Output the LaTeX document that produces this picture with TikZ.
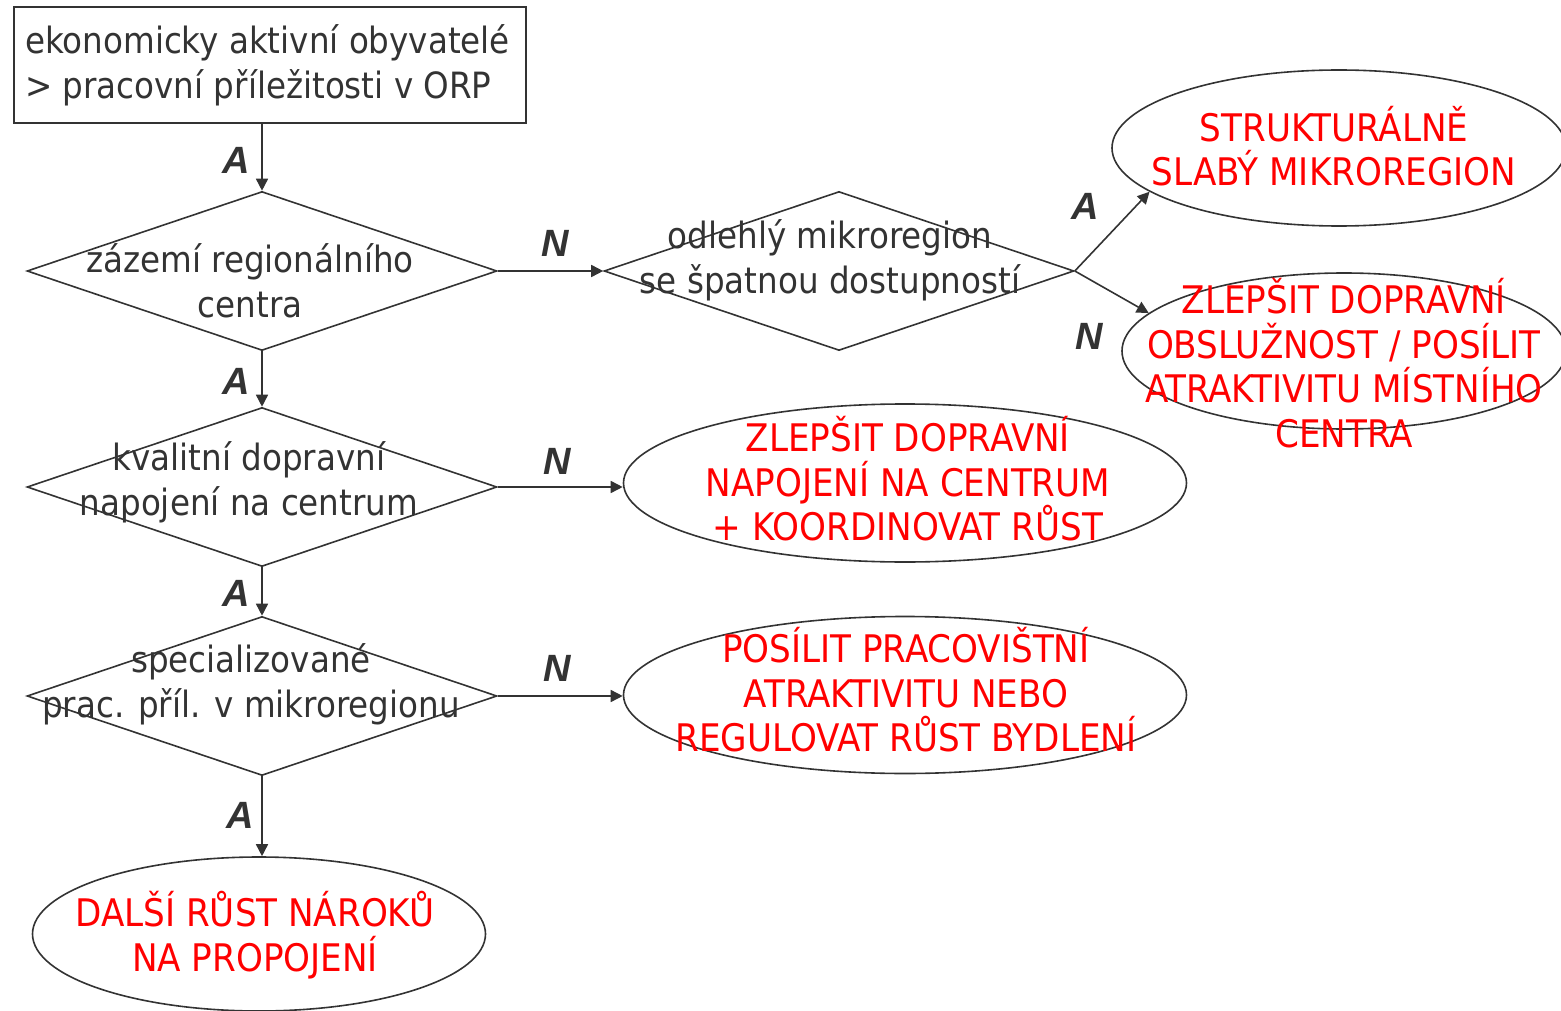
\documentclass[tikz,border=0pt]{standalone}
\usepackage{fontspec}
\setmainfont{DejaVu Sans Condensed}
\newfontfamily\labfont{Liberation Sans}
\usetikzlibrary{shapes.geometric,arrows.meta}
\definecolor{ink}{HTML}{333333}
\definecolor{redt}{HTML}{FF0000}
\tikzset{
  conn/.style={draw=ink, line width=1.6pt, -{Triangle[length=12pt,width=12pt]}},
  dia/.style={draw=ink, line width=1.6pt, shape=diamond, inner sep=0pt, minimum width=470pt, minimum height=159pt},
  ell/.style={draw=ink, line width=1.6pt, shape=ellipse, inner sep=0pt},
  btxt/.style={text=ink, align=center, inner sep=0pt, font=\fontsize{36.2}{45}\selectfont},
  rtxt/.style={text=redt, align=center, inner sep=0pt, font=\fontsize{38}{44.5}\selectfont},
  lab/.style={text=ink, inner sep=0pt, font=\labfont\bfseries\itshape\fontsize{38}{40}\selectfont},
}
\begin{document}
\begin{tikzpicture}[x=1pt,y=-1pt]
\useasboundingbox (0,0) rectangle (1561,1011);
% start box
\node[draw=ink, line width=1.6pt, minimum width=512pt, minimum height=116pt, inner sep=0pt] (box) at (270,65) {};
\node[btxt, align=left, anchor=west] (boxt) at (25,65) {ekonomicky aktivní obyvatelé\\> pracovní příležitosti v ORP};
% diamonds
\node[dia] (d1) at (262,271) {};
\node[dia] (d2) at (839,271) {};
\node[dia] (d3) at (262,487) {};
\node[dia] (d4) at (262,696) {};
\node[btxt] (d1t) at (250,281) {zázemí regionálního\\centra};
\node[btxt] (d2t) at (830,260) {odlehlý mikroregion\\se špatnou dostupností};
\node[btxt] (d3t) at (249,482) {kvalitní dopravní\\napojení na centrum};
\node[btxt] (d4t) at (251,684) {specializované\\prac. příl. v mikroregionu};
% ellipses
\node[ell, minimum width=454pt, minimum height=156pt] (e1) at (1339,148) {};
\node[ell, minimum width=444pt, minimum height=156pt] (e2) at (1344,351) {};
\node[ell, minimum width=563pt, minimum height=158pt] (e3) at (905,483) {};
\node[ell, minimum width=563pt, minimum height=157pt] (e4) at (905,695) {};
\node[ell, minimum width=453pt, minimum height=154pt] (e5) at (259,934) {};
\node[rtxt] (e1t) at (1334,146) {STRUKTURÁLNĚ\\SLABÝ MIKROREGION};
\node[rtxt] (e2t) at (1344,363) {ZLEPŠIT DOPRAVNÍ\\OBSLUŽNOST / POSÍLIT\\ATRAKTIVITU MÍSTNÍHO\\CENTRA};
\node[rtxt] (e3t) at (908,479) {ZLEPŠIT DOPRAVNÍ\\NAPOJENÍ NA CENTRUM\\+ KOORDINOVAT RŮST};
\node[rtxt] (e4t) at (906,690) {POSÍLIT PRACOVIŠTNÍ\\ATRAKTIVITU NEBO\\REGULOVAT RŮST BYDLENÍ};
\node[rtxt] (e5t) at (255,935) {DALŠÍ RŮST NÁROKŮ\\NA PROPOJENÍ};
% connectors
\draw[conn] (d1.north |- box.south) -- (d1.north);
\draw[conn] (d1.east) -- (d2.west);
\draw[conn] (d2.east) -- (e1.193);
\draw[conn] (d2.east) -- (e2.169);
\draw[conn] (d1.south) -- (d3.north);
\draw[conn] (d3.east) -- (d3.east -| e3.west);
\draw[conn] (d3.south) -- (d4.north);
\draw[conn] (d4.east) -- (d4.east -| e4.west);
\draw[conn] (d4.south) -- (e5.north -| d4.south);
% labels
\node[lab] (la1) at (236,160) {A};
\node[lab] (ln1) at (555,243) {N};
\node[lab] (la2) at (1085,206) {A};
\node[lab] (ln2) at (1089,336) {N};
\node[lab] (la3) at (236,381) {A};
\node[lab] (ln3) at (557,461) {N};
\node[lab] (la4) at (236,593) {A};
\node[lab] (ln4) at (557,668) {N};
\node[lab] (la5) at (240,815) {A};
\end{tikzpicture}
\end{document}
